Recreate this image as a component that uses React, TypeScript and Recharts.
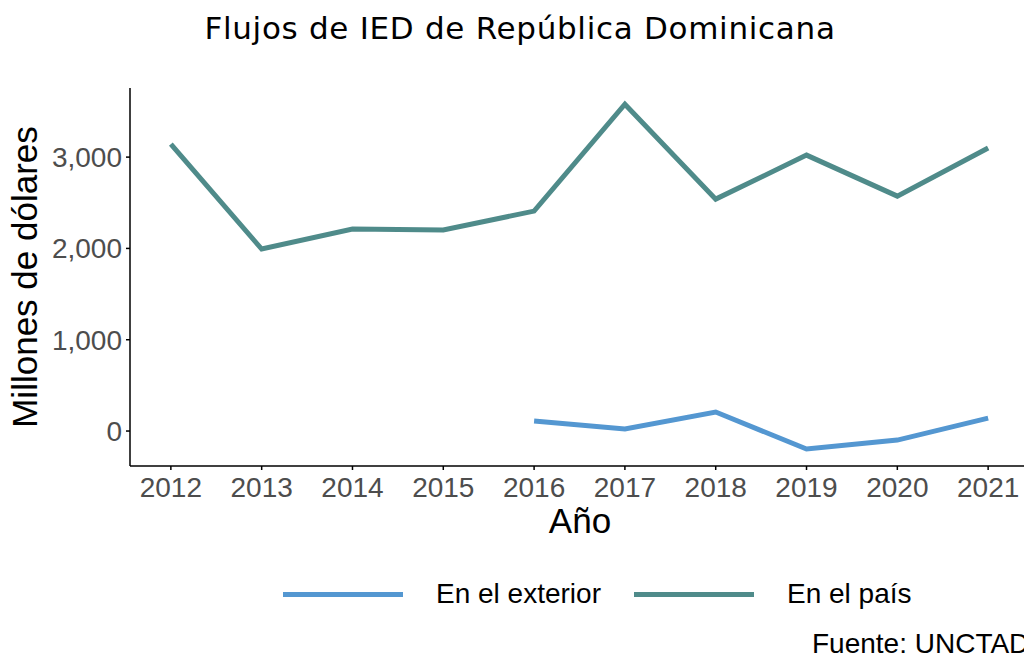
import { LineChart, Line, XAxis, YAxis } from "recharts";

const YEARS = [2012, 2013, 2014, 2015, 2016, 2017, 2018, 2019, 2020, 2021];
const EN_EL_PAIS = [3142, 1993, 2212, 2201, 2409, 3580, 2540, 3022, 2573, 3099];
const EN_EL_EXTERIOR = [null, null, null, null, 109, 22, 208, -197, -99, 142];
const Y_TICKS = [0, 1000, 2000, 3000];

const BLUE = "#5497D1";
const TEAL = "#4F8B8A";
const FONT = "'Liberation Sans', Arial, sans-serif";

const data = YEARS.map((year, i) => ({
  year,
  pais: EN_EL_PAIS[i],
  exterior: EN_EL_EXTERIOR[i],
}));

const fmt = (v: number) => v.toLocaleString("en-US");

const LEGEND_ITEMS = [
  { label: "En el exterior", color: BLUE },
  { label: "En el país", color: TEAL },
];

export default function App() {
  return (
    <div style={{ position: "absolute", left: 0, top: 0, width: 1024, height: 659, overflow: "hidden", background: "#fff" }}>
      <LineChart width={1040} height={659} data={data} margin={{ top: 88, right: 11, left: 0, bottom: 0 }}>
        <XAxis
          dataKey="year"
          type="number"
          domain={[2011.55, 2021.45]}
          ticks={YEARS}
          height={193}
          stroke="#000"
          strokeWidth={1.5}
          tickSize={4}
          tickMargin={7}
          tick={{ fill: "#4d4d4d", fontSize: 28, fontFamily: FONT }}
          allowDataOverflow
        />
        <YAxis
          type="number"
          domain={[-383, 3757]}
          ticks={Y_TICKS}
          width={130}
          stroke="#000"
          strokeWidth={1.5}
          tickSize={4}
          tickMargin={4}
          tickFormatter={fmt}
          tick={{ fill: "#4d4d4d", fontSize: 28, fontFamily: FONT }}
          allowDataOverflow
        />
        <Line dataKey="exterior" stroke={BLUE} strokeWidth={5} dot={false} isAnimationActive={false} connectNulls={false} />
        <Line dataKey="pais" stroke={TEAL} strokeWidth={5} dot={false} isAnimationActive={false} />
      </LineChart>
      <div style={{ position: "absolute", left: 283, top: 576, display: "flex", alignItems: "center", fontFamily: FONT, fontSize: 28, color: "#000", height: 36 }}>
        {LEGEND_ITEMS.map((it) => (
          <div key={it.label} style={{ display: "flex", alignItems: "center", marginRight: 33 }}>
            <div style={{ width: 120, height: 5, background: it.color, marginRight: 33 }} />
            <span>{it.label}</span>
          </div>
        ))}
      </div>
      <svg width={1024} height={659} style={{ position: "absolute", left: 0, top: 0, pointerEvents: "none" }}>
        <text x={520} y={39} textAnchor="middle" fontFamily="'DejaVu Sans', sans-serif" fontSize={31} letterSpacing={0.7} fill="#000">
          Flujos de IED de República Dominicana
        </text>
        <text x={580} y={533} textAnchor="middle" fontFamily={FONT} fontSize={35} fill="#000">
          Año
        </text>
        <text transform="translate(37,277) rotate(-90)" textAnchor="middle" fontFamily={FONT} fontSize={35} fill="#000">
          Millones de dólares
        </text>
        <text x={812} y={653} fontFamily={FONT} fontSize={28} fill="#000">
          Fuente: UNCTAD
        </text>
      </svg>
    </div>
  );
}
